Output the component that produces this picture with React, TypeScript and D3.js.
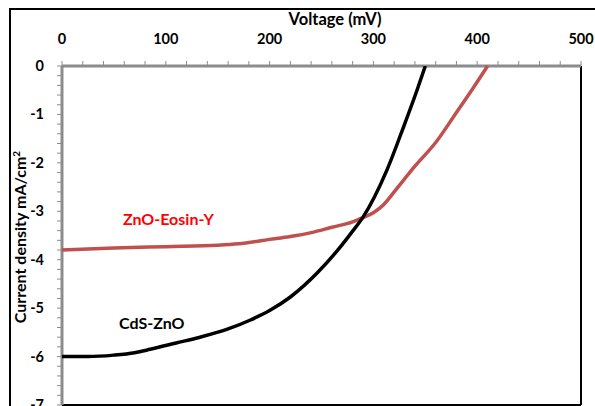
import { scaleLinear, line, curveMonotoneX, range } from "d3";

const xTicks = [0, 100, 200, 300, 400, 500];
const yTicks = [0, -1, -2, -3, -4, -5, -6, -7];

const cdsVoltage = [0, 25, 50, 70, 85, 110, 133, 160, 181, 200, 220, 246, 268, 280, 290, 313, 329, 342, 350];
const cdsCurrent = [-6.0, -6.0, -5.97, -5.92, -5.85, -5.72, -5.6, -5.43, -5.25, -5.05, -4.77, -4.27, -3.74, -3.41, -3.12, -2.15, -1.26, -0.5, 0];

const eosinVoltage = [0, 50, 100, 150, 170, 200, 220, 240, 260, 280, 290, 300, 310, 320, 340, 360, 380, 395, 410];
const eosinCurrent = [-3.8, -3.76, -3.73, -3.7, -3.67, -3.58, -3.52, -3.44, -3.33, -3.22, -3.13, -3.03, -2.86, -2.6, -2.07, -1.58, -0.96, -0.49, 0];

const font = "Lato, 'Open Sans', sans-serif";

export default function App() {
  const width = 595;
  const height = 406;
  const left = 62;
  const right = 581;
  const top = 66;
  const bottom = 405;

  const x = scaleLinear().domain([0, 500]).range([left, right]);
  const y = scaleLinear().domain([0, -7]).range([top, bottom]);

  const path = line<[number, number]>()
    .x((d) => x(d[0]))
    .y((d) => y(d[1]))
    .curve(curveMonotoneX);

  const cds = cdsVoltage.map((v, i) => [v, cdsCurrent[i]] as [number, number]);
  const eosin = eosinVoltage.map((v, i) => [v, eosinCurrent[i]] as [number, number]);

  const axisGrey = "#8c8c8c";

  return (
    <svg
      width={width}
      height={height}
      style={{ position: "absolute", left: 0, top: 0, background: "#fff" }}
      fontFamily={font}
      fontWeight="bold"
    >
      <rect x={10} y={9} width={700} height={500} fill="#fff" stroke="#000" strokeWidth={2} />

      {/* plot frame: right and bottom */}
      <line x1={right} x2={right} y1={top} y2={bottom} stroke="#000" strokeWidth={2} />
      <line x1={left} x2={right} y1={bottom} y2={bottom} stroke="#000" strokeWidth={2} />

      {/* minor ticks */}
      {range(0, 501, 20).map((v) => (
        <line key={"xt" + v} x1={x(v)} x2={x(v)} y1={top} y2={top - 5} stroke={axisGrey} strokeWidth={1} />
      ))}
      {range(0, 36).map((i) => {
        const v = -i * 0.2;
        return <line key={"yt" + i} x1={left} x2={left - 5} y1={y(v)} y2={y(v)} stroke={axisGrey} strokeWidth={1} />;
      })}

      <line x1={left} x2={right} y1={top} y2={top} stroke={axisGrey} strokeWidth={3} />
      <line x1={left} x2={left} y1={top} y2={bottom} stroke={axisGrey} strokeWidth={3} />

      {xTicks.map((v) => (
        <text key={"xl" + v} x={x(v)} y={44} textAnchor="middle" fontSize={14.5} fill="#000">
          {v}
        </text>
      ))}
      {yTicks.map((v) => (
        <text key={"yl" + v} x={44} y={y(v) + 5} textAnchor="end" fontSize={14.5} fill="#000">
          {v === 0 ? "0" : `-${Math.abs(v)}`}
        </text>
      ))}

      <text x={335} y={25} textAnchor="middle" fontSize={16.5} fill="#000">
        Voltage (mV)
      </text>
      <text transform="translate(26,237) rotate(-90)" textAnchor="middle" fontSize={16} fill="#000">
        Current density mA/cm<tspan fontSize={10} dy={-6}>2</tspan>
      </text>

      <path d={path(eosin) ?? ""} fill="none" stroke="#c0504d" strokeWidth={3.5} />
      <path d={path(cds) ?? ""} fill="none" stroke="#000" strokeWidth={3.5} />

      <text x={123} y={225} fontSize={16} fill="#ff0000">
        ZnO-Eosin-Y
      </text>
      <text x={119} y={329} fontSize={16} fill="#000">
        CdS-ZnO
      </text>
    </svg>
  );
}
